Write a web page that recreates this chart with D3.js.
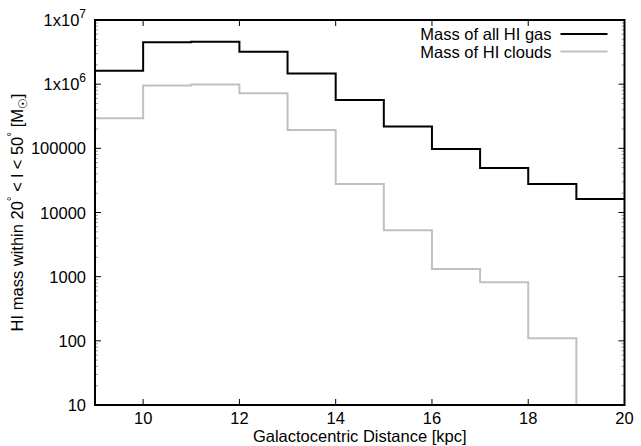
<!DOCTYPE html>
<html>
<head>
<meta charset="utf-8">
<script src="https://cdn.jsdelivr.net/npm/d3@7"></script>
<style>
    body { margin: 0; background: #fff; }
    text { font-family: "Liberation Sans", Arial, sans-serif; font-size: 16.5px; fill: #000; }
</style>
</head>
<body>
<div id="chart"></div>
<script>
// bin start positions (kpc), each bin is 1 kpc wide
const binStarts = [9, 10, 11, 12, 13, 14, 15, 16, 17, 18, 19];
const binEnd = 20;

// HI mass per bin (solar masses)
const allGas = [1.62e6, 4.5e6, 4.6e6, 3.2e6, 1.46e6, 5.66e5, 2.18e5, 9.8e4, 4.94e4, 2.78e4, 1.62e4];
const clouds = [2.94e5, 9.5e5, 9.9e5, 7.2e5, 1.93e5, 2.78e4, 5.27e3, 1.32e3, 817, 110, 0];

const seriesNames = ['Mass of all HI gas', 'Mass of HI clouds'];
const seriesColors = ['#000000', '#c0c0c0'];

const xTicks = [10, 12, 14, 16, 18, 20];
const yTicks = [10, 100, 1000, 10000, 100000, 1e6, 1e7];
const yTickLabels = ['10', '100', '1000', '10000', '100000', ['1x10', '6'], ['1x10', '7']];

const margin = { top: 20, right: 16.5, bottom: 41, left: 95 },
    width = 641 - margin.left - margin.right,
    height = 446 - margin.top - margin.bottom;

const svg = d3.select('#chart')
    .append('svg')
    .attr('width', width + margin.left + margin.right)
    .attr('height', height + margin.top + margin.bottom)
    .append('g')
    .attr('transform', `translate(${margin.left}, ${margin.top})`);

const x = d3.scaleLinear()
    .domain([9, 20])
    .range([0, width]);

const y = d3.scaleLog()
    .domain([10, 1e7])
    .range([height, 0]);

svg.append('clipPath')
    .attr('id', 'plot-clip')
    .append('rect')
    .attr('width', width)
    .attr('height', height);

// minor log ticks (2..9 in every decade), left and right
const minor = [];
for (let d = 10; d < 1e7; d *= 10) {
    for (let k = 2; k <= 9; k++) minor.push(d * k);
}
const tickG = svg.append('g');
minor.forEach(v => {
    [[0, 3], [width, width - 3]].forEach(([a, b]) => {
        tickG.append('line')
            .attr('x1', a).attr('x2', b)
            .attr('y1', y(v)).attr('y2', y(v))
            .attr('stroke', '#888')
            .attr('stroke-width', 0.8);
    });
});
yTicks.forEach(v => {
    [[0, 6], [width, width - 6]].forEach(([a, b]) => {
        tickG.append('line')
            .attr('x1', a).attr('x2', b)
            .attr('y1', y(v)).attr('y2', y(v))
            .attr('stroke', '#000')
            .attr('stroke-width', 1);
    });
});
xTicks.forEach(v => {
    [[height, height - 6], [0, 6]].forEach(([a, b]) => {
        tickG.append('line')
            .attr('x1', x(v)).attr('x2', x(v))
            .attr('y1', a).attr('y2', b)
            .attr('stroke', '#000')
            .attr('stroke-width', 1);
    });
});

// step lines
const line = d3.line()
    .x(d => x(d[0]))
    .y(d => y(Math.max(d[1], 10)))
    .curve(d3.curveStepAfter);

[allGas, clouds].forEach((vals, i) => {
    const pts = binStarts.map((b, j) => [b, vals[j]]);
    pts.push([binEnd, vals[vals.length - 1]]);
    svg.append('path')
        .datum(pts)
        .attr('clip-path', 'url(#plot-clip)')
        .attr('fill', 'none')
        .attr('stroke', seriesColors[i])
        .attr('stroke-width', 2)
        .attr('d', line);
});

// frame
svg.append('rect')
    .attr('width', width)
    .attr('height', height)
    .attr('fill', 'none')
    .attr('stroke', '#000')
    .attr('stroke-width', 2);

// y tick labels
yTicks.forEach((v, i) => {
    const t = svg.append('text')
        .attr('x', -9)
        .attr('y', y(v) + 6)
        .attr('text-anchor', 'end');
    const lab = yTickLabels[i];
    if (Array.isArray(lab)) {
        t.append('tspan').text(lab[0]);
        t.append('tspan').attr('dy', -8).style('font-size', '12px').text(lab[1]);
    } else {
        t.text(lab);
    }
});

// x tick labels
xTicks.forEach(v => {
    svg.append('text')
        .attr('x', x(v))
        .attr('y', height + 18.5)
        .attr('text-anchor', 'middle')
        .text(v);
});

svg.append('text')
    .attr('x', width / 2)
    .attr('y', height + 36.5)
    .attr('text-anchor', 'middle')
    .text('Galactocentric Distance [kpc]');

const ylab = svg.append('text')
    .attr('transform', `translate(${-margin.left + 23}, ${height / 2}) rotate(-90)`)
    .attr('text-anchor', 'middle');
ylab.append('tspan').text('HI mass within 20');
ylab.append('tspan').attr('dy', -7).style('font-size', '12px').text('°');
ylab.append('tspan').attr('dy', 7).text(' < l < 50');
ylab.append('tspan').attr('dy', -7).style('font-size', '12px').text('°');
ylab.append('tspan').attr('dy', 7).text(' [M');
ylab.append('tspan').attr('dy', 4).style('font-size', '12px')
    .style('font-family', '"DejaVu Sans", sans-serif').text('\u2609');
ylab.append('tspan').attr('dy', -4).text(']');

// legend
const legend = svg.append('g')
    .attr('transform', `translate(${width - 73}, 14)`);
seriesNames.forEach((name, i) => {
    const row = legend.append('g').attr('transform', `translate(0, ${i * 17.5})`);
    row.append('text')
        .attr('x', 0)
        .attr('y', 6)
        .attr('text-anchor', 'end')
        .text(name);
    row.append('line')
        .attr('x1', 9).attr('x2', 56)
        .attr('stroke', seriesColors[i])
        .attr('stroke-width', 2);
});
</script>
</body>
</html>
